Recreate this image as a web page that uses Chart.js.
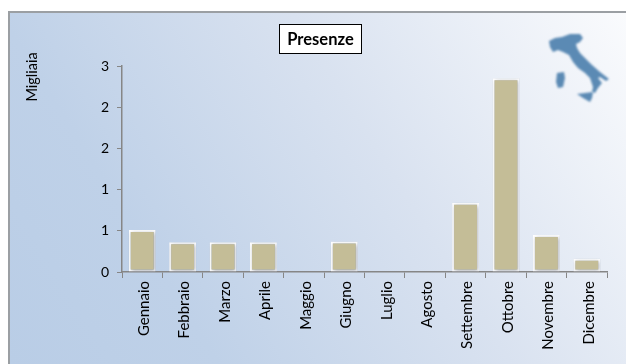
<!DOCTYPE html>
<html>
<head>
<meta charset="utf-8">
<style>
  html, body { margin: 0; background: #fff; }
  #wrap {
    position: absolute; left: 8px; top: 11px; width: 618px; height: 353px;
    box-sizing: border-box; border-top: 2px solid #9b9fa3; border-left: 2px solid #9b9fa3;
    background: linear-gradient(58deg, #b9cde6 0%, #bfd1e8 25%, #d9e2f0 60%, #fafbfd 100%);
  }
  #page { position: absolute; left: 0; top: 0; width: 626px; height: 364px; }
</style>
</head>
<body>
<div id="wrap"></div>
<div id="page"><canvas id="presenzeChart" width="626" height="364"></canvas></div>
<script src="https://cdn.jsdelivr.net/npm/chart.js@4/dist/chart.umd.min.js"></script>
<script>
const categories = ["Gennaio", "Febbraio", "Marzo", "Aprile", "Maggio", "Giugno", "Luglio", "Agosto", "Settembre", "Ottobre", "Novembre", "Dicembre"];
const presenze = [0.51, 0.36, 0.36, 0.36, 0, 0.37, 0, 0, 0.84, 2.35, 0.45, 0.16];
const yTicks = [0, 0.5, 1, 1.5, 2, 2.5];
const yTickLabels = ["0", "1", "1", "2", "2", "3"];
const chartTitle = "Presenze";
const yTitle = "Migliaia";

const font = "Lato";

// sagoma dell'Italia in alto a destra, solo decorazione
const italy = [[549,41],[555,38],[562,37],[570,34],[580,34],[583,38],[580,42],[576,44],[577,48],[580,53],[585,58],[592,65],[600,72],[609,79],[606,81],[600,77],[598,78],[602,83],[598,88],[595,93],[592,92],[593,87],[590,78],[585,73],[578,68],[573,62],[569,55],[563,52],[558,50],[553,52],[550,47]];
const sardinia = [[557,73],[564,72],[565,78],[563,87],[558,88],[556,82]];
const sicily = [[577,94],[585,93],[593,92],[592,98],[590,102],[583,98]];

const decorPlugin = {
  id: "decor",
  beforeDatasetsDraw(chart) {
    const c = chart.ctx;
    c.save();
    c.shadowColor = "rgba(70,80,100,0.45)";
    c.shadowBlur = 4;
    c.shadowOffsetX = 1;
    c.shadowOffsetY = 1;
  },
  afterDatasetsDraw(chart) {
    chart.ctx.restore();
  },
  afterDraw(chart) {
    const c = chart.ctx;
    c.save();
    c.fillStyle = "#fff";
    c.strokeStyle = "#000";
    c.lineWidth = 1;
    c.fillRect(279.5, 24.5, 82, 29);
    c.strokeRect(279.5, 24.5, 82, 29);
    c.fillStyle = "#000";
    c.font = "bold 16.5px " + font;
    c.textAlign = "center";
    c.textBaseline = "middle";
    c.fillText(chartTitle, 320.5, 39.5);

    c.font = "14.5px " + font;
    c.translate(32, 77);
    c.rotate(-Math.PI / 2);
    c.fillText(yTitle, 0, 0);
    c.restore();

    c.save();
    c.fillStyle = "#5b8ab4";
    c.filter = "blur(0.8px)";
    [italy, sardinia, sicily].forEach((shape) => {
      c.beginPath();
      shape.forEach((p, i) => (i ? c.lineTo(p[0], p[1]) : c.moveTo(p[0], p[1])));
      c.closePath();
      c.fill();
    });
    c.restore();
  },
};

new Chart(document.getElementById("presenzeChart"), {
  type: "bar",
  data: {
    labels: categories,
    datasets: [
      {
        data: presenze,
        backgroundColor: "#c4bd97",
        borderColor: "#ffffff",
        borderWidth: 2,
        borderSkipped: false,
        barPercentage: 0.7,
        categoryPercentage: 0.95,
      },
    ],
  },
  options: {
    responsive: false,
    animation: false,
    layout: { padding: { left: 0, right: 19, top: 66, bottom: 0 } },
    plugins: { legend: { display: false }, tooltip: { enabled: false }, title: { display: false } },
    scales: {
      x: {
        grid: { drawOnChartArea: false, color: "#868686", tickLength: 6 },
        border: { color: "#868686", width: 1.5 },
        ticks: { minRotation: 90, maxRotation: 90, autoSkip: false, padding: 3, labelOffset: 2, color: "#000", font: { family: font, size: 15 } },
        afterFit(scale) { scale.height = 92; },
      },
      y: {
        min: 0,
        max: 2.5,
        afterBuildTicks(scale) { scale.ticks = yTicks.map((v) => ({ value: v })); },
        grid: { drawOnChartArea: false, color: "#868686", tickLength: 5 },
        border: { color: "#868686", width: 1.5 },
        ticks: { padding: 8, color: "#000", font: { family: font, size: 14 }, callback: (v) => yTickLabels[yTicks.indexOf(v)] },
        afterFit(scale) { scale.width = 122; },
      },
    },
  },
  plugins: [decorPlugin],
});
</script>
</body>
</html>
